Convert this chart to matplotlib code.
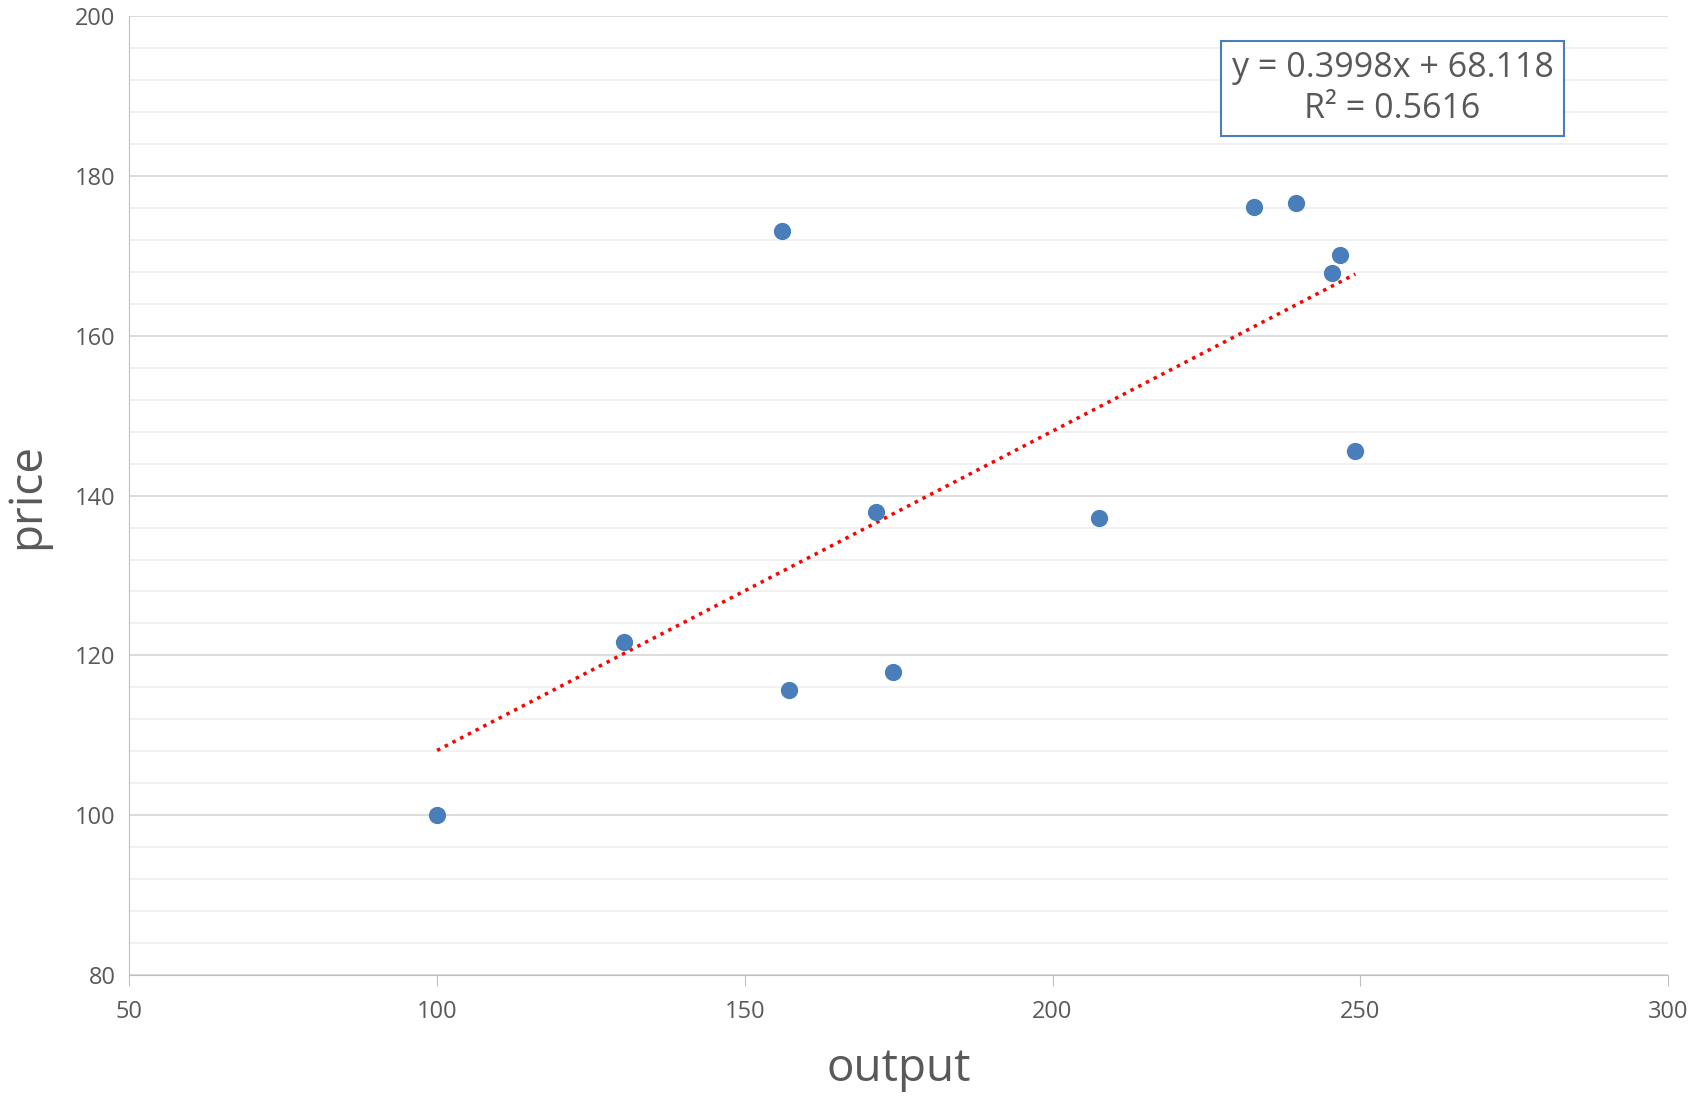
import numpy as np
import matplotlib.pyplot as plt
from matplotlib.ticker import MultipleLocator

plt.rcParams['font.family'] = ['Open Sans', 'DejaVu Sans']

### Data
output = [100, 130.4, 156.1, 157.2, 171.3, 174.1, 207.5, 232.7, 239.6, 245.4, 246.7, 249.2]
price = [100, 121.7, 173.2, 115.7, 138.0, 117.9, 137.2, 176.2, 176.7, 167.9, 170.1, 145.6]
slope = 0.3998
intercept = 68.118
r2 = 0.5616

fig = plt.figure(figsize=(17.02, 10.99), dpi=100)
ax = fig.add_axes([0.076, 0.113, 0.904, 0.872])

ax.scatter(output, price, s=130, color='#4a7ebb', zorder=3)

xt = np.array([min(output), max(output)])
ax.plot(xt, slope*xt + intercept, color='red', linestyle=(0, (1, 1.5)), lw=2.5, zorder=2)

ax.set_xlim(50, 300)
ax.set_ylim(80, 200)
ax.xaxis.set_major_locator(MultipleLocator(50))
ax.yaxis.set_major_locator(MultipleLocator(20))
ax.yaxis.set_minor_locator(MultipleLocator(4))
ax.grid(which='major', axis='y', color='#d9d9d9', lw=1.3)
ax.grid(which='minor', axis='y', color='#f0f0f0', lw=1.3)
ax.set_axisbelow(True)
for s in ['top', 'right']:
    ax.spines[s].set_visible(False)
ax.spines['left'].set_color('#bfbfbf')
ax.spines['bottom'].set_color('#bfbfbf')
ax.tick_params(which='major', length=8, color='#bfbfbf', labelsize=17, labelcolor='#595959', pad=10)
ax.tick_params(which='minor', length=0)
ax.tick_params(axis='y', length=0)

ax.set_xlabel('output', fontsize=33, color='#595959', labelpad=16)
ax.set_ylabel('price', fontsize=33, color='#595959', labelpad=18)

ax.text(0.821, 0.925, 'y = 0.3998x + 68.118\nR² = 0.5616', transform=ax.transAxes,
        ha='center', va='center', fontsize=24.5, color='#595959', linespacing=1.25,
        bbox=dict(boxstyle='square,pad=0.3', fc='white', ec='#4a7ebb', lw=1.5))

fig.savefig('out.png')
